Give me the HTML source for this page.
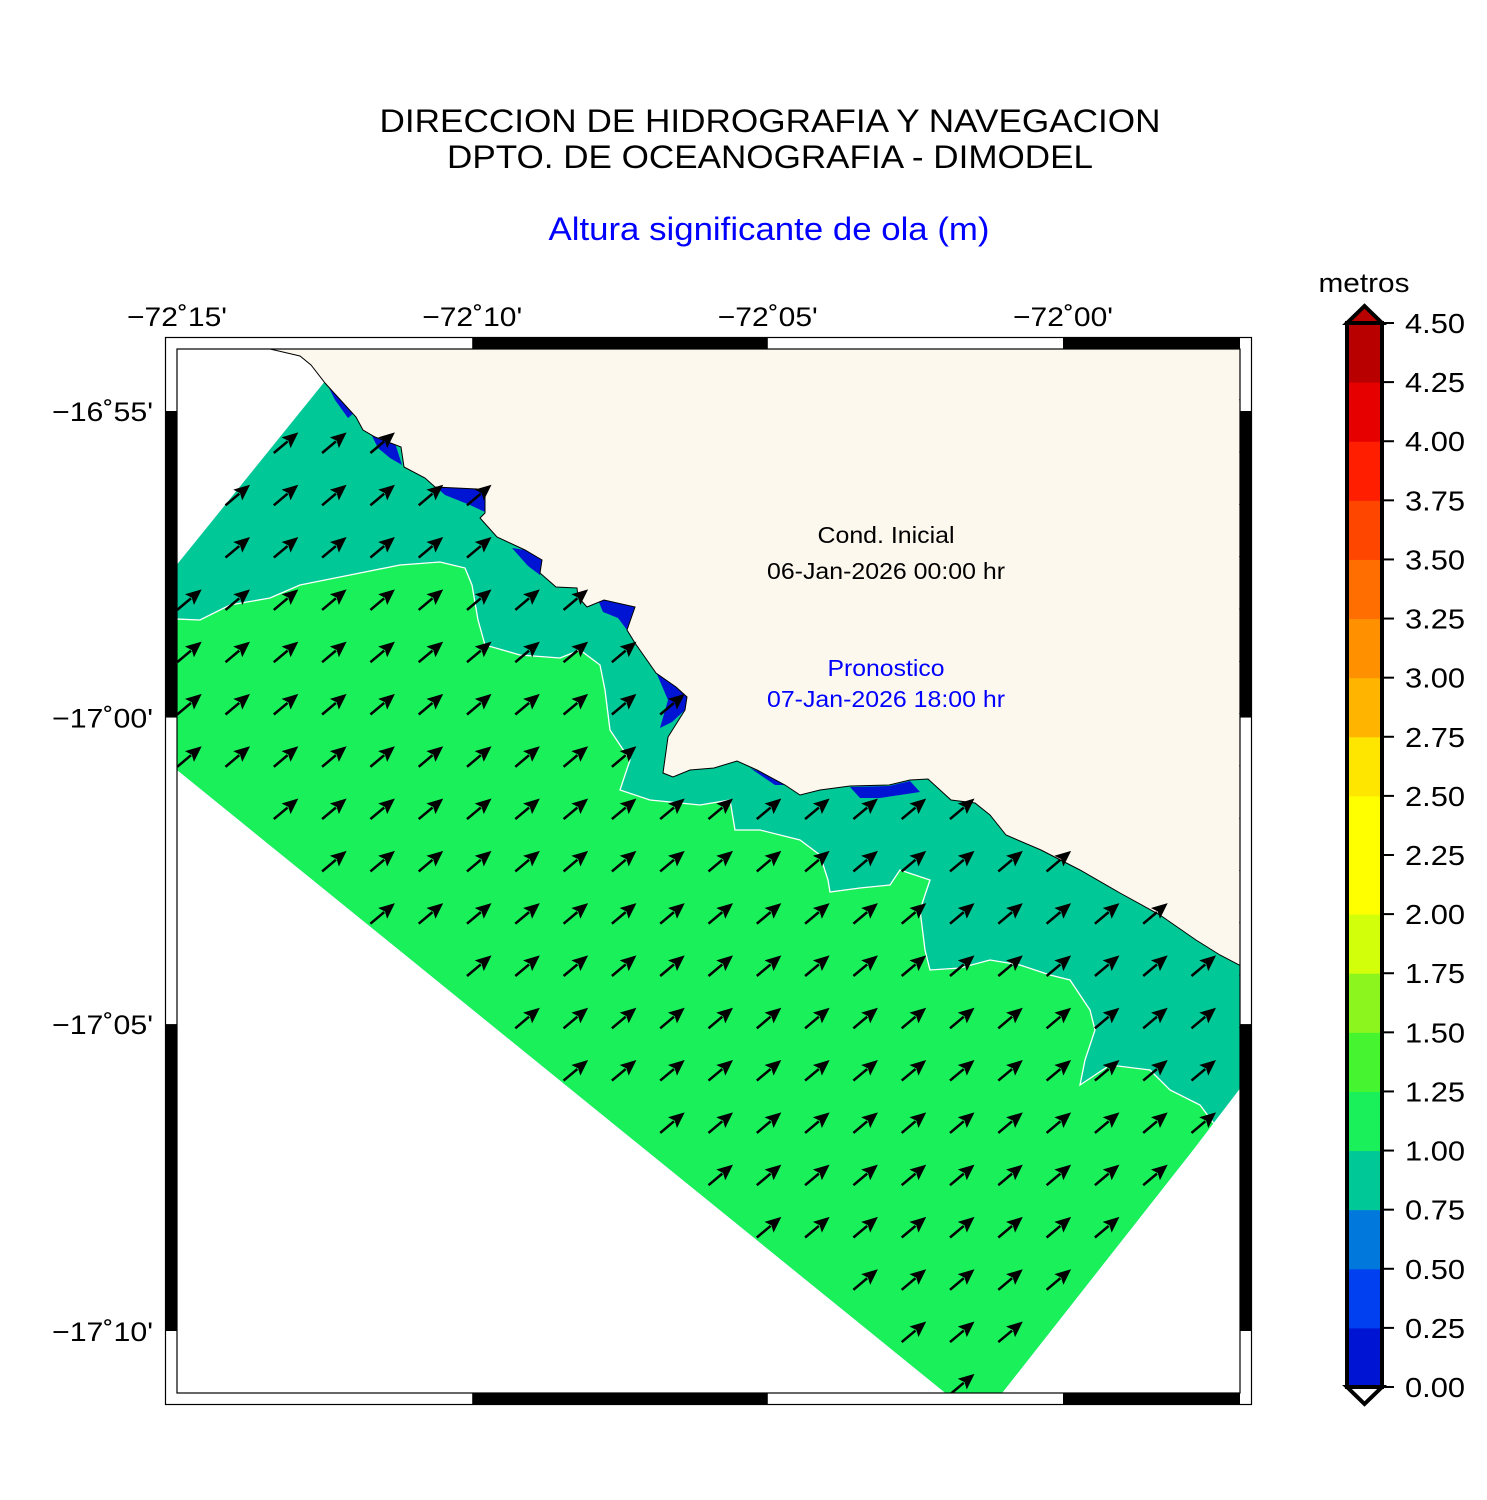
<!DOCTYPE html>
<html><head><meta charset="utf-8">
<style>
html,body{margin:0;padding:0;background:#fff;}
svg{display:block;font-family:"Liberation Sans",Arial,sans-serif;}
</style></head>
<body>
<svg id="chart" width="1487" height="1500" viewBox="0 0 1487 1500" xmlns="http://www.w3.org/2000/svg">
  <rect x="0" y="0" width="1487" height="1500" fill="#fff"/>
  <text x="770" y="132" text-anchor="middle" font-size="32" textLength="781" lengthAdjust="spacingAndGlyphs">DIRECCION DE HIDROGRAFIA Y NAVEGACION</text>
  <text x="770" y="168" text-anchor="middle" font-size="32" textLength="646" lengthAdjust="spacingAndGlyphs">DPTO. DE OCEANOGRAFIA - DIMODEL</text>
  <text x="769" y="240" text-anchor="middle" font-size="32" fill="#0000ff" textLength="441" lengthAdjust="spacingAndGlyphs">Altura significante de ola (m)</text>
  <defs>
    <clipPath id="mapclip"><rect x="177" y="349" width="1063" height="1044"/></clipPath>
    <clipPath id="domclip"><polygon id="domclipPoly" points=""/></clipPath>
  </defs>
  <g id="map" clip-path="url(#mapclip)"></g>
  <g id="frame"></g>
  <g id="axes"></g>
  <text x="886" y="543" text-anchor="middle" font-size="23" textLength="137" lengthAdjust="spacingAndGlyphs">Cond. Inicial</text>
  <text x="886" y="579" text-anchor="middle" font-size="23" textLength="238" lengthAdjust="spacingAndGlyphs">06-Jan-2026 00:00 hr</text>
  <text x="886" y="676" text-anchor="middle" font-size="23" fill="#0000ff" textLength="117" lengthAdjust="spacingAndGlyphs">Pronostico</text>
  <text x="886" y="707" text-anchor="middle" font-size="23" fill="#0000ff" textLength="238" lengthAdjust="spacingAndGlyphs">07-Jan-2026 18:00 hr</text>
  <g id="cbar"></g>
</svg>
<script>
// ---- data ----
const levels = [0,0.25,0.5,0.75,1,1.25,1.5,1.75,2,2.25,2.5,2.75,3,3.25,3.5,3.75,4,4.25,4.5];
const levelColors = ["#0015d4","#0040f0","#0078dc","#00c896","#19f05a","#46f530","#8cf51e","#d2ff0a","#ffff00","#ffff00","#ffe600","#ffb400","#ff9100","#ff6e00","#ff4600","#ff1e00","#e60000","#b90000"];
const colorbarLabels = ["0.00","0.25","0.50","0.75","1.00","1.25","1.50","1.75","2.00","2.25","2.50","2.75","3.00","3.25","3.50","3.75","4.00","4.25","4.50"];
const lonTicks = [-72.25,-72.1667,-72.0833,-72.0];
const lonLabels = ["\u221272\u02da15'","\u221272\u02da10'","\u221272\u02da05'","\u221272\u02da00'"];
const latTicks = [-16.9167,-17.0,-17.0833,-17.1667];
const latLabels = ["\u221216\u02da55'","\u221217\u02da00'","\u221217\u02da05'","\u221217\u02da10'"];
const arrowDirDeg = [40,40,40,40,40,40,40,40,40,40,40,40,40,40,40,40,40,40,40,40];
const arrowSpeed = [1,1,1,1,1,1,1,1,1,1,1,1,1,1,1,1,1,1,1,1];

// ---- axis functions ----
const lon0=-72.25, lon1=-72.0, x0=177, x1=1063;
const lat0=-16.9167, lat1=-17.1667, y0=411, y1=1331;
function xs(lon){return x0+(lon-lon0)/(lon1-lon0)*(x1-x0);}
function ys(lat){return y0+(lat-lat0)/(lat1-lat0)*(y1-y0);}
const cbTop=323, cbBot=1387;
function cy(v){return cbBot-(v-levels[0])/(levels[levels.length-1]-levels[0])*(cbBot-cbTop);}

const NS="http://www.w3.org/2000/svg";
function mk(tag,attrs,parent){const e=document.createElementNS(NS,tag);for(const k in attrs)e.setAttribute(k,attrs[k]);parent.appendChild(e);return e;}
const P=a=>a.map(p=>p.join(",")).join(" ");

// ---- geometry (map shapes) ----
const domain=[[150,598],[330,375],[1300,375],[1300,1010],[1193,1150],[980,1421],[150,748]];
const land=[[270,349],[300,356],[311,365],[325,383],[345,405],[356,417],[363,430],[375,437],[401,447],[404,467],[425,478],[435,487],[477,489],[485,493],[485,513],[480,518],[497,537],[525,550],[542,560],[540,573],[556,587],[577,588],[578,597],[587,607],[604,600],[635,607],[627,630],[635,643],[656,673],[676,687],[687,697],[685,710],[668,737],[663,773],[673,777],[690,770],[714,768],[737,761],[757,770],[785,785],[800,795],[820,790],[850,786],[889,785],[910,780],[928,779],[951,800],[975,803],[990,815],[1006,835],[1041,850],[1080,870],[1120,893],[1160,915],[1196,940],[1220,955],[1245,968],[1245,340],[260,340]];
const greenZone=[[150,618],[200,620],[230,605],[270,598],[300,585],[350,575],[400,565],[440,562],[465,568],[472,585],[478,620],[485,645],[520,655],[560,658],[580,650],[600,665],[605,690],[610,730],[630,760],[620,790],[650,800],[700,805],[730,800],[735,830],[760,830],[800,840],[820,855],[828,880],[830,892],[860,888],[890,885],[900,870],[930,880],[920,910],[925,950],[930,970],[960,968],[990,960],[1020,965],[1050,975],[1070,980],[1090,1010],[1095,1030],[1085,1060],[1080,1085],[1110,1065],[1150,1070],[1170,1090],[1200,1105],[1215,1125],[1260,1085],[1260,1450],[150,1450]];
const bluePatches=[
 [[328,386],[340,392],[355,412],[348,418],[335,400]],
 [[372,436],[395,443],[402,465],[390,458],[378,448]],
 [[436,487],[477,488],[486,495],[485,512],[470,505],[445,495]],
 [[512,548],[525,550],[542,560],[540,575],[528,566]],
 [[598,600],[604,600],[635,607],[627,630],[618,618],[603,612]],
 [[656,672],[676,686],[687,697],[685,710],[672,722],[660,728],[668,700]],
 [[750,768],[760,772],[785,785],[775,785]],
 [[850,787],[889,786],[910,781],[920,792],[880,798],[860,798]]
];
const map=document.getElementById('map');
document.getElementById('domclipPoly').setAttribute('points',P(domain));
const dom=mk('polygon',{points:P(domain),fill:'#00c896'},map);


const gz=mk('polygon',{points:P(greenZone),fill:'#19f05a',stroke:'#ffffff','stroke-width':1.3,'clip-path':'url(#domclip)'},map);


bluePatches.forEach(b=>{
  const e=mk('polygon',{points:P(b),fill:'#0015d4'},map);
  
  
});
const ld=mk('polygon',{points:P(land),fill:'#fdf8ee',stroke:'#000','stroke-width':1},map);



function inside(pt,poly){let c=false;for(let i=0,j=poly.length-1;i<poly.length;j=i++){const[xi,yi]=poly[i],[xj,yj]=poly[j];if(((yi>pt[1])!=(yj>pt[1]))&&(pt[0]<(xj-xi)*(pt[1]-yi)/(yj-yi)+xi))c=!c;}return c;}

// arrows grid
const arrowsG=mk('g',{},map);


for(let j=0;j<arrowDirDeg.length;j++){
  const ty=400.7+52.3*j;
  for(let i=0;i<23;i++){
    const tx=177.2+48.3*i;
    const ang=arrowDirDeg[j]*Math.PI/180, L=32*arrowSpeed[j];
    const hx=tx+L*Math.cos(ang), hy=ty-L*Math.sin(ang);
    const mid=[(tx+hx)/2,(ty+hy)/2];
    if(!inside([tx+2,ty-2],domain)||inside(mid,land)||!inside([hx-3,hy+3],domain)) continue;
    const ux=Math.cos(ang), uy=-Math.sin(ang), px=-uy, py=ux;
    const bx=hx-16*ux, by=hy-16*uy;
    const g=mk('g',{},arrowsG);
    
    
    mk('line',{x1:tx,y1:ty,x2:bx+2*ux,y2:by+2*uy,stroke:'#000','stroke-width':2.5},g);
    mk('polygon',{points:P([[hx,hy],[bx+7*px,by+7*py],[bx+3*ux,by+3*uy],[bx-7*px,by-7*py]]),fill:'#000'},g);
  }
}

// frame
const fr=document.getElementById('frame');
mk('rect',{x:165.5,y:337.5,width:1086,height:1067,fill:'none',stroke:'#000','stroke-width':1.2},fr);
mk('rect',{x:177,y:349,width:1063,height:1044,fill:'none',stroke:'#000','stroke-width':1.2},fr);
const xb=[177,xs(-72.1667),xs(-72.0833),xs(-72.0),1240];
for(let k=0;k<4;k++){ if(k%2===1){ mk('rect',{x:xb[k],y:338,width:xb[k+1]-xb[k],height:11,fill:'#000'},fr); mk('rect',{x:xb[k],y:1393,width:xb[k+1]-xb[k],height:12,fill:'#000'},fr);} }
const yb=[ys(-16.9167),ys(-17.0),ys(-17.0833),ys(-17.1667)];
[[yb[0],yb[1]],[yb[2],yb[3]]].forEach(s=>{mk('rect',{x:165,y:s[0],width:12,height:s[1]-s[0],fill:'#000'},fr);mk('rect',{x:1240,y:s[0],width:12,height:s[1]-s[0],fill:'#000'},fr);});

// axis labels
const ax=document.getElementById('axes');
lonTicks.forEach((v,i)=>{const t=mk('text',{x:xs(v),y:326,'text-anchor':'middle','font-size':27,textLength:100,lengthAdjust:'spacingAndGlyphs'},ax);t.textContent=lonLabels[i];
 
 });
latTicks.forEach((v,i)=>{const t=mk('text',{x:153,y:ys(v)+10,'text-anchor':'end','font-size':27,textLength:101,lengthAdjust:'spacingAndGlyphs'},ax);t.textContent=latLabels[i];
 
 });

// colorbar
const cb=document.getElementById('cbar');
const cbx=1347, cbw=35;
for(let k=0;k<levelColors.length;k++){
  const r=mk('rect',{x:cbx,y:cy(levels[k+1]),width:cbw,height:cy(levels[k])-cy(levels[k+1])+0.5,fill:levelColors[k]},cb);
  
  
}
mk('polygon',{points:P([[cbx,cbTop],[cbx+cbw/2,cbTop-17],[cbx+cbw,cbTop]]),fill:'#b90000',stroke:'#000','stroke-width':4,'stroke-linejoin':'miter'},cb);
mk('polygon',{points:P([[cbx,cbBot],[cbx+cbw/2,cbBot+17],[cbx+cbw,cbBot]]),fill:'#fff',stroke:'#000','stroke-width':4},cb);
mk('rect',{x:cbx,y:cbTop,width:cbw,height:cbBot-cbTop,fill:'none',stroke:'#000','stroke-width':4},cb);
levels.forEach((v,i)=>{
  mk('line',{x1:cbx+cbw,y1:cy(v),x2:cbx+cbw+12,y2:cy(v),stroke:'#000','stroke-width':2},cb);
  const t=mk('text',{x:1405,y:cy(v)+10,'font-size':28,textLength:60,lengthAdjust:'spacingAndGlyphs'},cb);t.textContent=colorbarLabels[i];
  
  
});
const ut=mk('text',{x:1364,y:292,'text-anchor':'middle','font-size':27,textLength:91,lengthAdjust:'spacingAndGlyphs'},cb);ut.textContent='metros';


</script>
</body></html>
